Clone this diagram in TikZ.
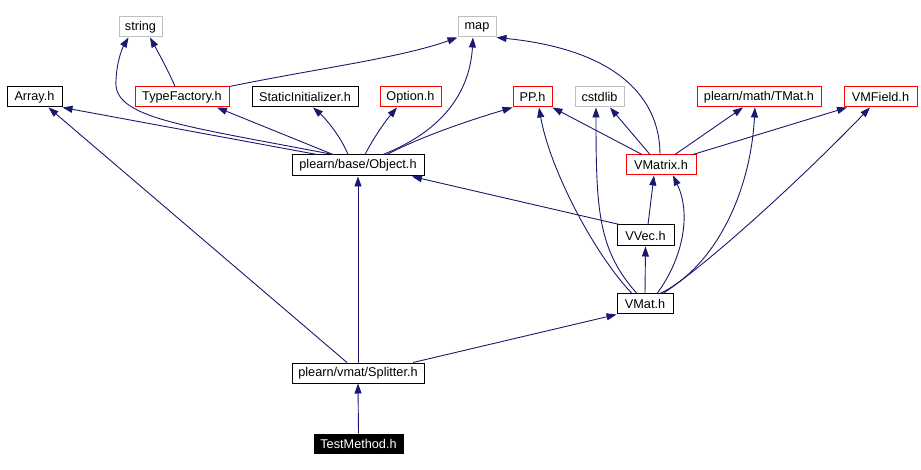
\documentclass[tikz,border=0pt]{standalone}
\usepackage{fontspec}
\setmainfont{Liberation Sans}
\usetikzlibrary{arrows.meta}
\definecolor{edgeblue}{RGB}{25,25,112}
\definecolor{boxgray}{RGB}{191,191,191}
\definecolor{boxred}{RGB}{255,0,0}
\begin{document}
\begin{tikzpicture}[x=1pt,y=-1pt,
  box/.style={rectangle, inner sep=0pt, minimum height=20pt, line width=1pt, font=\fontsize{12.7}{14}\selectfont},
  blackbox/.style={box, draw=black},
  redbox/.style={box, draw=boxred},
  graybox/.style={box, draw=boxgray},
  darkbox/.style={box, draw=black, fill=black, text=white},
  edge/.style={draw=edgeblue, line width=0.9pt, -{Triangle[length=10pt,width=7pt]}, fill=none}
]
\fill[white] (0,0) rectangle (921,470);
\useasboundingbox (0,0) rectangle (921,470);

\node[graybox, minimum width=43pt] (string) at (140.5,27) {string};
\node[graybox, minimum width=38pt] (map) at (477,27) {map};
\node[blackbox, minimum width=55pt] (array) at (34.5,97) {Array.h};
\node[redbox, minimum width=94pt] (tf) at (182,97) {TypeFactory.h};
\node[blackbox, minimum width=106pt] (si) at (305,97) {StaticInitializer.h};
\node[redbox, minimum width=61pt] (opt) at (410.5,97) {Option.h};
\node[redbox, minimum width=39pt] (pp) at (532.5,97) {PP.h};
\node[graybox, minimum width=49pt] (cstd) at (599.5,97) {cstdlib};
\node[redbox, minimum width=124pt] (tmat) at (759,97) {plearn/math/TMat.h};
\node[redbox, minimum width=73pt] (vmf) at (880.5,97) {VMField.h};
\node[blackbox, minimum width=132pt, minimum height=21pt] (obj) at (358,165.5) {plearn/base/Object.h};
\node[redbox, minimum width=70pt] (vmx) at (661,165) {VMatrix.h};
\node[blackbox, minimum width=57pt, minimum height=21pt] (vvec) at (645.5,235.5) {VVec.h};
\node[blackbox, minimum width=56pt] (vmat) at (645,304) {VMat.h};
\node[blackbox, minimum width=132pt] (split) at (358,373) {plearn/vmat/Splitter.h};
\node[darkbox, minimum width=89pt, minimum height=19pt] (test) at (358.5,443.5) {TestMethod.h};

% TypeFactory
\draw[edge] ([xshift=-7pt]tf.north) .. controls (168,70) and (158,52) .. ([xshift=9.5pt]string.south);
\draw[edge] (tf.north east) .. controls (320,68) and (400,58) .. (map.south west);

% Object
\draw[edge] ([xshift=-25pt]obj.north) .. controls (180,125) and (112,118) .. (116,80) .. controls (117,58) and (124,45) .. ([xshift=-12pt]string.south);
\draw[edge] ([xshift=-41pt]obj.north) -- (array.south east);
\draw[edge] ([xshift=-25pt]obj.north) -- ([xshift=35pt]tf.south);
\draw[edge] ([xshift=-10pt]obj.north) .. controls (340,135) and (325,118) .. ([xshift=8pt]si.south);
\draw[edge] ([xshift=7pt]obj.north) .. controls (375,135) and (388,118) .. ([xshift=-13.5pt]opt.south);
\draw[edge] ([xshift=25pt]obj.north) .. controls (445,130) and (470,90) .. ([xshift=-4pt]map.south);
\draw[edge] ([xshift=29pt]obj.north) .. controls (420,137) and (470,120) .. (pp.south west);

% VMatrix
\draw[edge] ([xshift=-1pt]vmx.north) .. controls (660,100) and (620,50) .. (map.south east);
\draw[edge] ([xshift=-19pt]vmx.north) -- (pp.south east);
\draw[edge] ([xshift=-11pt]vmx.north) -- ([xshift=10.5pt]cstd.south);
\draw[edge] ([xshift=14pt]vmx.north) -- ([xshift=-16pt]tmat.south);
\draw[edge] ([xshift=32pt]vmx.north) -- ([xshift=-33.5pt]vmf.south);

% VVec
\draw[edge] ([xshift=2.5pt]vvec.north) -- ([xshift=-7pt]vmx.south);
\draw[edge] ([xshift=3pt]vvec.north west) -- ([xshift=54pt]obj.south);

% VMat
\draw[edge] (vmat.north) -- (vvec.south);
\draw[edge] ([xshift=12pt]vmat.north) .. controls (682,260) and (692,215) .. ([xshift=12pt]vmx.south);
\draw[edge] ([xshift=-13pt]vmat.north) .. controls (595,255) and (550,170) .. ([xshift=6.5pt]pp.south);
\draw[edge] ([xshift=-8pt]vmat.north) .. controls (598,250) and (596,210) .. ([xshift=-3.5pt]cstd.south);
\draw[edge] ([xshift=15pt]vmat.north) .. controls (710,270) and (750,200) .. ([xshift=-4pt]tmat.south);
\draw[edge] ([xshift=18pt]vmat.north) .. controls (710,262) and (800,180) .. ([xshift=-10.5pt]vmf.south);

% Splitter
\draw[edge] (split.north) -- (obj.south);
\draw[edge] ([xshift=-11pt]split.north) -- ([xshift=14pt]array.south);
\draw[edge] ([xshift=55pt]split.north) -- (vmat.south west);

% TestMethod
\draw[edge] (test.north) -- (split.south);
\end{tikzpicture}
\end{document}
